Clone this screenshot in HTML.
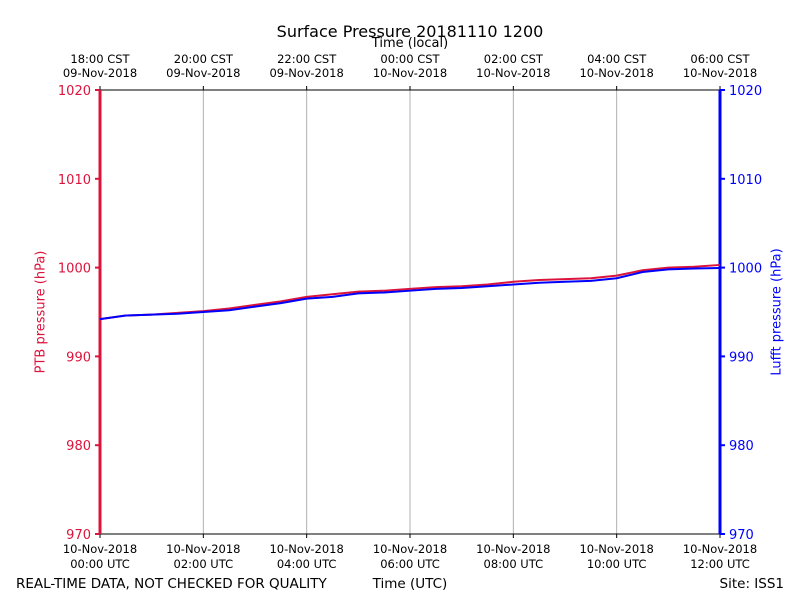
<!DOCTYPE html>
<html><head><meta charset="utf-8"><style>
body{margin:0;background:#fff}
svg{font-family:"DejaVu Sans","Liberation Sans",sans-serif}
</style></head><body>
<svg id="c" width="800" height="600" xmlns="http://www.w3.org/2000/svg">
<text x="410" y="37" font-size="16" text-anchor="middle">Surface Pressure 20181110 1200</text>
<text x="410" y="47" font-size="13" text-anchor="middle">Time (local)</text>
<text x="41" y="312" font-size="13" fill="#dc143c" text-anchor="middle" dominant-baseline="middle" transform="rotate(-90 41 312)">PTB pressure (hPa)</text>
<text x="777" y="312" font-size="13" fill="#0000ff" text-anchor="middle" dominant-baseline="middle" transform="rotate(-90 777 312)">Lufft pressure (hPa)</text>
<text x="16" y="588" font-size="13.5">REAL-TIME DATA, NOT CHECKED FOR QUALITY</text>
<text x="410" y="588" font-size="13.5" text-anchor="middle">Time (UTC)</text>
<text x="784" y="588" font-size="13.5" text-anchor="end">Site: ISS1</text>
<g id="grid"></g><g id="ticks"></g><g id="series"></g>
</svg>
<script>
const hours=[0,0.5,1,1.5,2,2.5,3,3.5,4,4.5,5,5.5,6,6.5,7,7.5,8,8.5,9,9.5,10,10.5,11,11.5,12];
const ptb=[994.2,994.6,994.7,994.9,995.1,995.4,995.8,996.2,996.7,997.0,997.3,997.4,997.6,997.8,997.9,998.1,998.4,998.6,998.7,998.8,999.1,999.7,1000.0,1000.1,1000.3];
const lufft=[994.2,994.6,994.7,994.8,995.0,995.2,995.6,996.0,996.5,996.7,997.1,997.2,997.4,997.6,997.7,997.9,998.1,998.3,998.4,998.5,998.8,999.5,999.8,999.9,999.95];
const yTicks=[970,980,990,1000,1010,1020];
const xTickHours=[0,2,4,6,8,10,12];
const utcLabels=[["10-Nov-2018","00:00 UTC"],["10-Nov-2018","02:00 UTC"],["10-Nov-2018","04:00 UTC"],["10-Nov-2018","06:00 UTC"],["10-Nov-2018","08:00 UTC"],["10-Nov-2018","10:00 UTC"],["10-Nov-2018","12:00 UTC"]];
const localLabels=[["18:00 CST","09-Nov-2018"],["20:00 CST","09-Nov-2018"],["22:00 CST","09-Nov-2018"],["00:00 CST","10-Nov-2018"],["02:00 CST","10-Nov-2018"],["04:00 CST","10-Nov-2018"],["06:00 CST","10-Nov-2018"]];
const X0=100,X1=720,Y0=534,Y1=90;
const x=h=>X0+(h-0)/12*(X1-X0);
const y=p=>Y0-(p-970)/50*(Y0-Y1);
const NS="http://www.w3.org/2000/svg";
function mk(tag,attrs,parent,txt){const e=document.createElementNS(NS,tag);for(const k in attrs)e.setAttribute(k,attrs[k]);if(txt!==undefined)e.textContent=txt;document.getElementById(parent).appendChild(e);return e;}
xTickHours.forEach((h,i)=>{
  const g=mk('line',{x1:x(h),x2:x(h),y1:Y1,y2:Y0,stroke:'#b0b0b0','stroke-width':1},'grid');
  
  
  const t1=mk('line',{x1:x(h),x2:x(h),y1:Y0,y2:Y0+4,stroke:'#000'},'ticks');
  
  
  const t2=mk('line',{x1:x(h),x2:x(h),y1:Y1,y2:Y1-4,stroke:'#000'},'ticks');
  
  
  const a=mk('text',{x:x(h),y:553,'font-size':11.5,'text-anchor':'middle'},'ticks',utcLabels[i][0]);
  
  
  const b=mk('text',{x:x(h),y:568,'font-size':11.5,'text-anchor':'middle'},'ticks',utcLabels[i][1]);
  
  
  const c=mk('text',{x:x(h),y:63,'font-size':11.5,'text-anchor':'middle'},'ticks',localLabels[i][0]);
  
  
  const d=mk('text',{x:x(h),y:77,'font-size':11.5,'text-anchor':'middle'},'ticks',localLabels[i][1]);
  
  
});
const fr=mk('rect',{x:X0,y:Y1,width:X1-X0,height:Y0-Y1,fill:'none',stroke:'#000','stroke-width':1},'grid');


yTicks.forEach(v=>{
  const l=mk('line',{x1:X0-5,x2:X0,y1:y(v),y2:y(v),stroke:'#dc143c','stroke-width':2},'ticks');
  
  
  const lt=mk('text',{x:X0-9,y:y(v)+5,'font-size':13,fill:'#dc143c','text-anchor':'end'},'ticks',v);
  
  
  const r=mk('line',{x1:X1,x2:X1+5,y1:y(v),y2:y(v),stroke:'#0000ff','stroke-width':2},'ticks');
  
  
  const rt=mk('text',{x:X1+9,y:y(v)+5,'font-size':13,fill:'#0000ff'},'ticks',v);
  
  
});
const ls=mk('line',{x1:X0,x2:X0,y1:Y1,y2:Y0,stroke:'#dc143c','stroke-width':3},'ticks');


const rs=mk('line',{x1:X1,x2:X1,y1:Y1,y2:Y0,stroke:'#0000ff','stroke-width':3},'ticks');


const p1=mk('polyline',{points:hours.map((h,i)=>x(h)+','+y(ptb[i])).join(' '),fill:'none',stroke:'#dc143c','stroke-width':2},'series');


const p2=mk('polyline',{points:hours.map((h,i)=>x(h)+','+y(lufft[i])).join(' '),fill:'none',stroke:'#0000ff','stroke-width':2},'series');


</script>
</body></html>
